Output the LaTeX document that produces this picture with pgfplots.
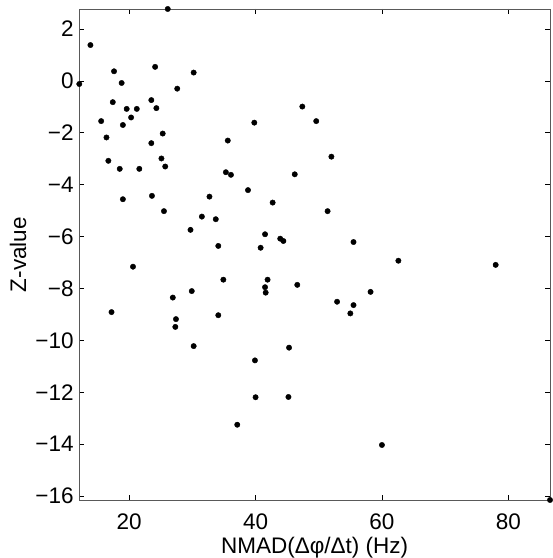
\documentclass[border=0pt]{standalone}
\usepackage{fontspec}
\setmainfont{Liberation Sans}
\usepackage{pgfplots}
\pgfplotsset{compat=1.18}
\begin{document}
\fontsize{22.5bp}{26bp}\selectfont
\begin{tikzpicture}
\begin{axis}[
  scale only axis, width=470.7bp, height=491bp,
  xmin=12.1, xmax=86.6, ymin=-16.15, ymax=2.77,
  xtick={20,40,60,80}, xticklabels={20,40,60,80},
  ytick={-16,-14,-12,-10,-8,-6,-4,-2,0,2},
  yticklabels={−16,−14,−12,−10,−8,−6,−4,−2,0,2},
  tick align=inside, major tick length=5bp,
  tick style={black, line width=0.6pt},
  axis line style={black!65, line width=0.8pt},
  every tick label/.append style={font=\fontsize{22.5bp}{26bp}\selectfont},
  xticklabel style={yshift=-6bp},
  yticklabel style={xshift=2bp},
  xlabel={NMAD(Δφ/Δt) (Hz)}, ylabel={Z-value},
  every axis x label/.style={at={(axis description cs:0.5,-0.0978)}, anchor=center, font=\fontsize{22.5bp}{26bp}\selectfont},
  every axis y label/.style={at={(axis description cs:-0.1302,0.5)}, anchor=center, rotate=90, font=\fontsize{22.5bp}{26bp}\selectfont},
  clip=false,
]
\coordinate (sw) at (rel axis cs:0,0);
\coordinate (ne) at (rel axis cs:1,1);
\addplot[only marks, mark=*, mark size=2.7bp, mark options={fill=black, draw=black}] coordinates {
(26.1,2.77) (13.86,1.38) (12.1,-0.12) (17.6,0.37) (18.8,-0.08) (24.1,0.54) (30.2,0.32) (27.6,-0.30)
(17.4,-0.82) (23.5,-0.74) (19.6,-1.08) (21.2,-1.08) (24.3,-1.05) (20.3,-1.41) (15.56,-1.55) (19.0,-1.70)
(25.3,-2.03) (16.4,-2.18) (23.5,-2.40) (35.6,-2.30) (39.8,-1.61) (16.7,-3.08) (18.5,-3.39) (21.6,-3.39)
(25.1,-2.99) (25.7,-3.30) (35.3,-3.52) (36.1,-3.62) (47.4,-0.99) (49.6,-1.55) (52.0,-2.92) (46.2,-3.60)
(23.6,-4.43) (19.0,-4.56) (32.7,-4.46) (38.8,-4.21) (25.5,-5.02) (31.5,-5.23) (33.7,-5.33) (29.7,-5.74)
(34.1,-6.36) (20.6,-7.16) (34.9,-7.66) (29.9,-8.10) (26.9,-8.35) (17.2,-8.91) (34.1,-9.03) (27.4,-9.18)
(27.3,-9.48) (30.2,-10.22) (42.7,-4.69) (51.4,-5.02) (41.5,-5.91) (43.9,-6.08) (44.4,-6.17) (40.8,-6.43)
(55.5,-6.21) (41.9,-7.66) (46.6,-7.86) (41.5,-7.95) (41.6,-8.16) (58.2,-8.13) (52.9,-8.51) (55.5,-8.64)
(55.0,-8.96) (45.3,-10.28) (62.6,-6.93) (78.0,-7.09) (39.9,-10.77) (40.0,-12.19) (45.2,-12.18) (37.1,-13.25)
(60.0,-14.03) (86.6,-16.15)
};
\end{axis}
\pgfresetboundingbox
\useasboundingbox ([shift={(-79.3bp,-58bp)}]sw) rectangle ([shift={(3bp,9bp)}]ne);
\end{tikzpicture}
\end{document}
